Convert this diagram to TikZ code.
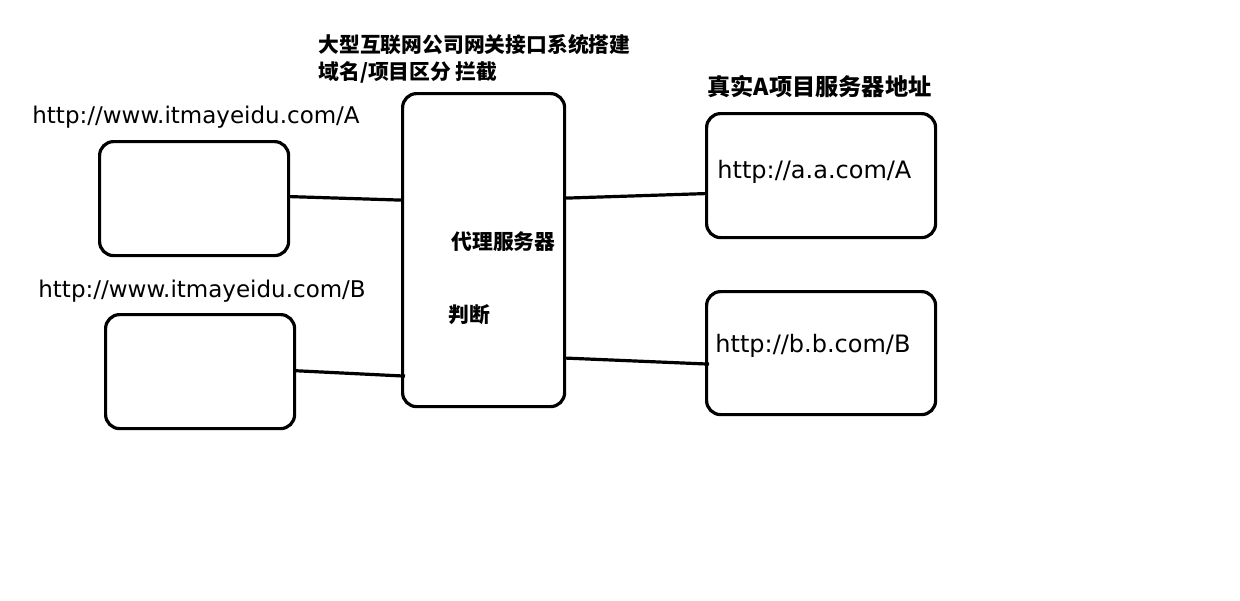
\documentclass[tikz,border=0pt]{standalone}
\usepackage{fontspec}
\setmainfont{DejaVu Sans}
\newfontfamily\cjk{Noto Sans CJK SC}
\begin{document}
\begin{tikzpicture}[x=0.5pt,y=-0.5pt,
  box/.style={draw=black,line width=1.6pt,rounded corners=7pt,inner sep=0pt,anchor=north west},
  link/.style={draw=black,line width=1.6pt},
  url/.style={inner sep=0pt,anchor=west,font=\fontsize{11.5}{13}\selectfont},
  zh/.style={inner sep=0pt,anchor=west,font=\cjk\bfseries\fontsize{10.4}{12}\selectfont}]
\useasboundingbox (0,0) rectangle (1240,600);
\fill[white] (0,0) rectangle (1240,600);
% boxes
\node[box,minimum width=94.5pt,minimum height=57pt] (la) at (98,140) {};
\node[box,minimum width=94.5pt,minimum height=57pt] (lb) at (104,313) {};
\node[box,minimum width=81pt,minimum height=156.5pt] (cen) at (401,92) {};
\node[box,minimum width=114.5pt,minimum height=62pt] (ra) at (705,112) {};
\node[box,minimum width=114.5pt,minimum height=61.5pt] (rb) at (705,290) {};
% connectors
\draw[link] ([yshift=1pt]la.east) -- ([yshift=25pt]cen.west);
\draw[link] ([yshift=0.5pt,xshift=-1.5pt]lb.east) -- ([yshift=-63pt,xshift=2pt]cen.west);
\draw[link] ([yshift=26pt]cen.east) -- ([yshift=-9pt]ra.west);
\draw[link] ([yshift=-54pt]cen.east) -- ([yshift=-5.5pt,xshift=2pt]rb.west);
% texts
\node[url] (ua) at (32,117) {http://www.itmayeidu.com/A};
\node[url] (ub) at (38,291) {http://www.itmayeidu.com/B};
\node[url,font=\fontsize{12}{14}\selectfont] (aa) at (717,172) {http://a.a.com/A};
\node[url,font=\fontsize{12}{14}\selectfont] (bb) at (715,346) {http://b.b.com/B};
\node[zh] (t1) at (318,45) {大型互联网公司网关接口系统搭建};
\node[zh] (t2) at (318,72) {域名/项目区分 拦截};
\node[zh,font=\cjk\bfseries\fontsize{11.6}{13}\selectfont] (t3) at (707,87) {真实A项目服务器地址};
\node[zh] (t4) at (451,242) {代理服务器};
\node[zh] (t5) at (448,315) {判断};
\end{tikzpicture}
\end{document}
